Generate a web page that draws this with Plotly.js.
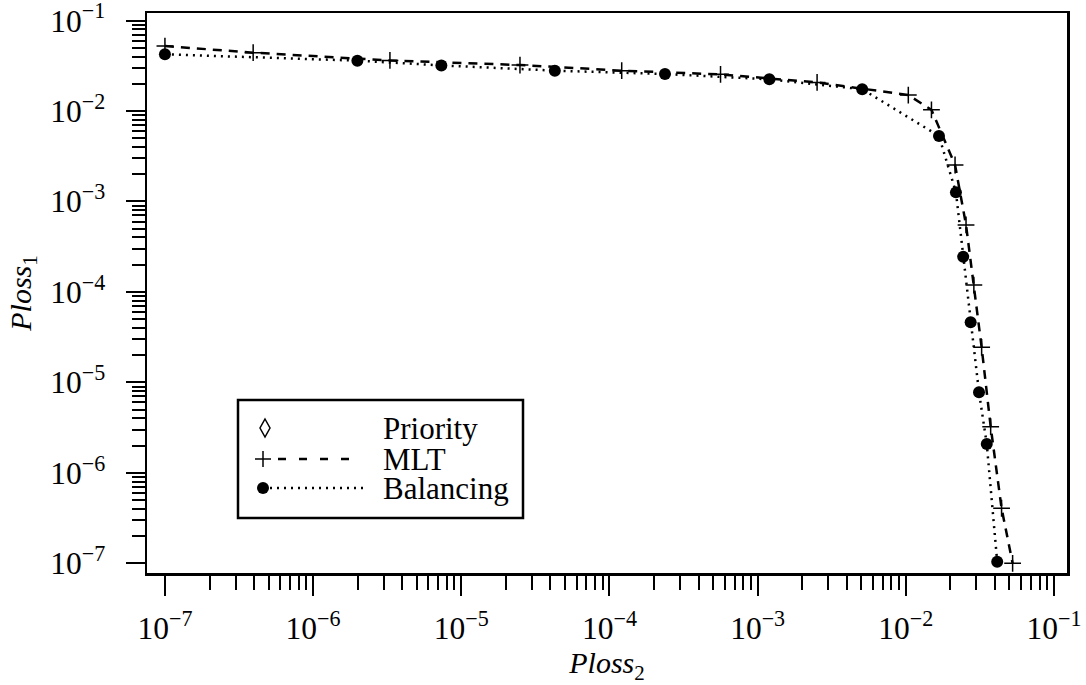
<!DOCTYPE html>
<html>
<head>
<meta charset="utf-8">
<script src="https://cdn.plot.ly/plotly-3.0.1.min.js"></script>
<style>html,body{margin:0;padding:0;background:#fff;}#chart{width:1086px;height:685px;}</style>
</head>
<body>
<div id="chart"></div>
<script>
// ---- data ----
const seriesNames = ["Priority", "MLT", "Balancing"];

const mltX = [1.0e-7, 3.94e-7, 3.30e-6, 2.49e-5, 1.21e-4, 5.62e-4, 2.52e-3, 1.04e-2, 1.49e-2, 2.15e-2, 2.55e-2, 2.88e-2, 3.25e-2, 3.74e-2, 4.43e-2, 5.26e-2];
const mltY = [5.22e-2, 4.41e-2, 3.62e-2, 3.22e-2, 2.79e-2, 2.54e-2, 2.07e-2, 1.50e-2, 1.03e-2, 2.53e-3, 5.50e-4, 1.19e-4, 2.44e-5, 3.24e-6, 4.06e-7, 1.0e-7];

const balX = [1.0e-7, 1.99e-6, 7.34e-6, 4.28e-5, 2.37e-4, 1.20e-3, 5.08e-3, 1.675e-2, 2.18e-2, 2.44e-2, 2.74e-2, 3.12e-2, 3.52e-2, 4.14e-2];
const balY = [4.23e-2, 3.60e-2, 3.19e-2, 2.79e-2, 2.56e-2, 2.24e-2, 1.74e-2, 5.29e-3, 1.26e-3, 2.45e-4, 4.61e-5, 7.76e-6, 2.08e-6, 1.04e-7];

const tickVals = [1e-7, 1e-6, 1e-5, 1e-4, 1e-3, 1e-2, 1e-1];
const tickText = ["10<sup>\u22127</sup>", "10<sup>\u22126</sup>", "10<sup>\u22125</sup>", "10<sup>\u22124</sup>",
                  "10<sup>\u22123</sup>", "10<sup>\u22122</sup>", "10<sup>\u22121</sup>"];

const xTitle = "<i>Ploss</i><sub>2</sub>";
const yTitle = "<i>Ploss</i><sub>1</sub>";

// minor tick positions: 2..9 within each decade between the major ticks
const minorVals = [];
for (let d = 0; d < tickVals.length - 1; d++) {
  for (let m = 2; m <= 9; m++) minorVals.push(m * tickVals[d]);
}

// ---- layout helpers (pixel -> paper) ----
const L = 147, R = 1067, T = 13, B = 573;
const px = x => (x - L) / (R - L);
const py = y => (B - y) / (B - T);
const FONT = "'Liberation Serif', 'Times New Roman', serif";

const traces = [
  {
    x: mltX, y: mltY, name: seriesNames[1], type: "scatter", mode: "lines+markers",
    line: {color: "black", width: 2.5, dash: "9px,7px"},
    marker: {symbol: "cross-thin", size: 12, color: "black", line: {color: "black", width: 1.5}},
    showlegend: false
  },
  {
    x: balX, y: balY, name: seriesNames[2], type: "scatter", mode: "lines+markers",
    line: {color: "black", width: 2.5, dash: "2px,5px"},
    marker: {symbol: "circle", size: 12, color: "black"},
    showlegend: false
  }
];

// custom legend (marker at the left end of the line sample)
const lgRows = [428, 459, 488];
const shapes = [
  {type: "rect", xref: "paper", yref: "paper", x0: px(238), x1: px(523), y0: py(400), y1: py(518),
   line: {color: "black", width: 2.5}, fillcolor: "white", layer: "above"},
  {type: "path", xref: "paper", yref: "paper",
   path: `M${px(265)},${py(419)} L${px(270)},${py(lgRows[0])} L${px(265)},${py(437)} L${px(260)},${py(lgRows[0])} Z`,
   line: {color: "black", width: 1.5}, layer: "above"},
  {type: "line", xref: "paper", yref: "paper", x0: px(255), x1: px(271), y0: py(lgRows[1]), y1: py(lgRows[1]), line: {color: "black", width: 1.5}, layer: "above"},
  {type: "line", xref: "paper", yref: "paper", x0: px(263), x1: px(263), y0: py(lgRows[1] - 8), y1: py(lgRows[1] + 8), line: {color: "black", width: 1.5}, layer: "above"},
  {type: "line", xref: "paper", yref: "paper", x0: px(278), x1: px(362), y0: py(lgRows[1]), y1: py(lgRows[1]), line: {color: "black", width: 2.5, dash: "8px,13px"}, layer: "above"},
  {type: "circle", xref: "paper", yref: "paper", x0: px(257), x1: px(269), y0: py(lgRows[2] - 6), y1: py(lgRows[2] + 6), fillcolor: "black", line: {color: "black", width: 0}, layer: "above"},
  {type: "line", xref: "paper", yref: "paper", x0: px(270), x1: px(368), y0: py(lgRows[2]), y1: py(lgRows[2]), line: {color: "black", width: 2.5, dash: "2px,5px"}, layer: "above"}
];
const annotations = seriesNames.map((n, i) => ({
  text: n, xref: "paper", yref: "paper", x: px(381), y: py(lgRows[i]), xanchor: "left", yanchor: "middle",
  showarrow: false, font: {family: FONT, size: 31, color: "black"}
}));

const axisCommon = {
  type: "log", tickmode: "array", tickvals: tickVals, ticktext: tickText,
  showgrid: false, zeroline: false, ticklabeloverflow: "allow",
  showline: true, linecolor: "black", linewidth: 2.5, mirror: true,
  ticks: "outside", tickcolor: "black", tickwidth: 2,
  tickfont: {family: FONT, size: 31.5, color: "black"}
};
const minorCommon = {ticks: "outside", tickmode: "array", tickvals: minorVals, tickcolor: "black", tickwidth: 2, showgrid: false};

const layout = {
  width: 1086, height: 685,
  margin: {l: L, r: 1086 - R, t: T, b: 685 - B, pad: 0},
  paper_bgcolor: "white", plot_bgcolor: "white",
  font: {family: FONT, color: "black"},
  showlegend: false,
  xaxis: Object.assign({}, axisCommon, {
    range: [-7.121, -0.912], ticklen: 20, ticklabelstandoff: 6,
    minor: Object.assign({}, minorCommon, {ticklen: 14}),
    title: {text: xTitle, font: {family: FONT, size: 30, color: "black"}, standoff: 2}
  }),
  yaxis: Object.assign({}, axisCommon, {
    range: [-7.107, -0.917], ticklen: 19, ticklabelstandoff: 14,
    minor: Object.assign({}, minorCommon, {ticklen: 13}),
    title: {text: yTitle, font: {family: FONT, size: 30, color: "black"}, standoff: 10}
  }),
  shapes: shapes,
  annotations: annotations
};

Plotly.newPlot("chart", traces, layout, {staticPlot: true, displayModeBar: false});
</script>
</body>
</html>
